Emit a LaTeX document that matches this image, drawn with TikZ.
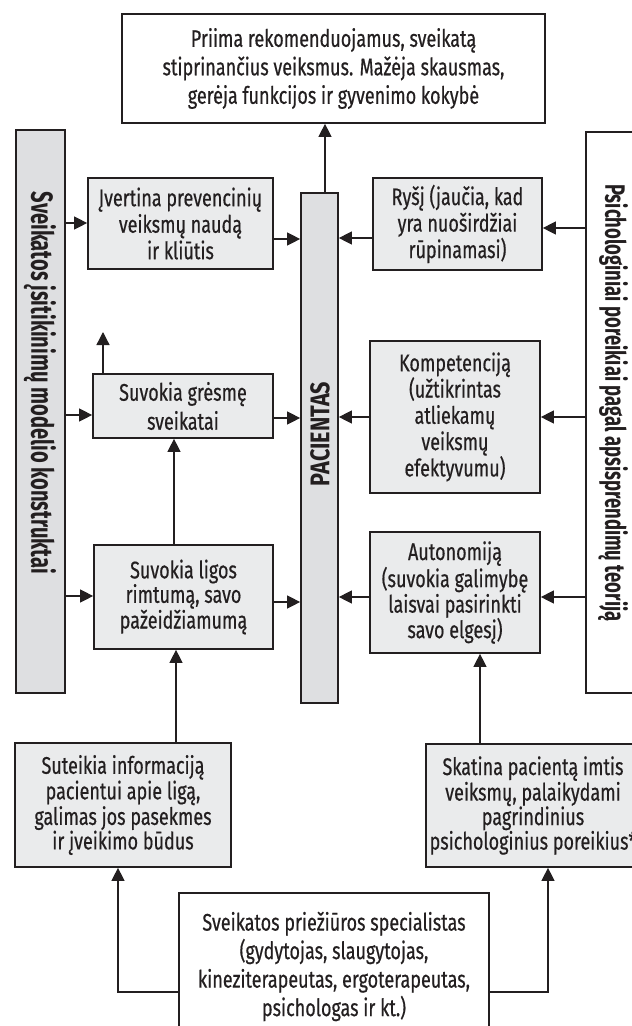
\documentclass[tikz,border=0pt]{standalone}
\usepackage{fontspec}
\setmainfont[FakeStretch=0.75,FakeBold=0.5]{Fira Sans}
\newfontfamily\condb[FakeStretch=0.66]{Fira Sans}
\newfontfamily\condp[FakeStretch=0.8]{Fira Sans}
\usetikzlibrary{arrows.meta}
\definecolor{ink}{RGB}{35,31,32}
\definecolor{lightfill}{RGB}{234,235,236}
\definecolor{tallfill}{RGB}{222,223,225}
\tikzset{
  bx/.style={draw=ink, line width=1.7pt, fill=lightfill, align=center, inner sep=0pt, text=ink,
    font=\fontsize{24}{25.5}\selectfont},
  wbx/.style={bx, fill=white, font=\fontsize{24}{28.5}\selectfont},
  tallbx/.style={draw=ink, line width=1.7pt, fill=tallfill, inner sep=0pt},
  rottxt/.style={text=ink, inner sep=0pt, font=\condb\bfseries\fontsize{28}{30}\selectfont},
  conn/.style={draw=ink, line width=1.3pt, -{Triangle[length=13pt,width=13pt]}},
}
\begin{document}
\begin{tikzpicture}[x=1pt,y=-1pt]
\useasboundingbox (0,0) rectangle (632,1026);
\clip (0,0) rectangle (632,1026);
% boxes
\node[wbx, minimum width=423pt, minimum height=109pt] (top) at (333.5,68.5)
  {Priima rekomenduojamus, sveikatą\\stiprinančius veiksmus. Mažėja skausmas,\\gerėja funkcijos ir gyvenimo kokybė};
\node[tallbx, minimum width=49pt, minimum height=563pt] (lt) at (40.5,411.5) {};
\node[tallbx, fill=white, minimum width=59pt, minimum height=561pt] (rt) at (615.5,412.5) {};
\node[tallbx, minimum width=37pt, minimum height=510pt] (pac) at (319.5,448) {};
\node[rottxt, rotate=-90, font=\condb\bfseries\fontsize{30.5}{30}\selectfont] (lttxt) at (40,383) {Sveikatos įsitikinimų modelio konstruktai};
\node[rottxt, rotate=-90] (rttxt) at (613,403) {Psichologiniai poreikiai pagal apsisprendimų teoriją};
\node[rottxt, rotate=90, font=\condp\bfseries\fontsize{27}{25}\selectfont] (pactxt) at (320,434) {PACIENTAS};
\node[bx, minimum width=185pt, minimum height=91pt, font=\fontsize{24}{26.5}\selectfont] (iv) at (180.5,223.5)
  {Įvertina prevencinių\\veiksmų naudą\\ir kliūtis};
\node[bx, minimum width=180pt, minimum height=64pt, font=\fontsize{24}{29}\selectfont] (sg) at (183,406)
  {Suvokia grėsmę\\sveikatai};
\node[bx, minimum width=179pt, minimum height=104pt, font=\fontsize{24}{24.5}\selectfont] (sl) at (183.5,597)
  {Suvokia ligos\\rimtumą, savo\\pažeidžiamumą};
\node[bx, minimum width=169pt, minimum height=92pt, font=\fontsize{24}{26.5}\selectfont] (ry) at (457.5,224)
  {Ryšį (jaučia, kad\\yra nuoširdžiai\\rūpinamasi)};
\node[bx, minimum width=170pt, minimum height=152pt, font=\fontsize{24}{26.3}\selectfont] (ko) at (455,417)
  {Kompetenciją\\(užtikrintas\\atliekamų\\veiksmų\\efektyvumu)};
\node[bx, minimum width=170pt, minimum height=121pt] (au) at (455,592.5)
  {Autonomiją\\(suvokia galimybę\\laisvai pasirinkti\\savo elgesį)};
\node[bx, minimum width=216pt, minimum height=124pt, font=\fontsize{24}{24.5}\selectfont] (sut) at (123,805)
  {Suteikia informaciją\\pacientui apie ligą,\\galimas jos pasekmes\\ir įveikimo būdus};
\node[bx, minimum width=214pt, minimum height=123pt, font=\fontsize{24}{24.5}\selectfont] (skt) at (533,805.5)
  {Skatina pacientą imtis\\veiksmų, palaikydami\\pagrindinius\\psichologinius poreikius*};
\node[wbx, minimum width=310pt, minimum height=147pt] (bot) at (334,966.5)
  {Sveikatos priežiūros specialistas\\(gydytojas, slaugytojas,\\kineziterapeutas, ergoterapeutas,\\psichologas ir kt.)};
\coordinate (stub) at (103,332);
% connectors left
\draw[conn] (lt.east |- {(0,223)}) -- (iv.west |- {(0,223)});
\draw[conn] (lt.east |- {(0,415)}) -- (sg.west |- {(0,415)});
\draw[conn] (lt.east |- {(0,596)}) -- (sl.west |- {(0,596)});
\draw[conn] (iv.east |- {(0,239)}) -- (pac.west |- {(0,239)});
\draw[conn] (sg.east |- {(0,418)}) -- (pac.west |- {(0,418)});
\draw[conn] (sl.east |- {(0,602)}) -- (pac.west |- {(0,602)});
% connectors right
\draw[conn] (rt.west |- {(0,228)}) -- (ry.east |- {(0,228)});
\draw[conn] (rt.west |- {(0,417)}) -- (ko.east |- {(0,417)});
\draw[conn] (rt.west |- {(0,597)}) -- (au.east |- {(0,597)});
\draw[conn] (ry.west |- {(0,238)}) -- (pac.east |- {(0,238)});
\draw[conn] (ko.west |- {(0,417)}) -- (pac.east |- {(0,417)});
\draw[conn] (au.west |- {(0,597)}) -- (pac.east |- {(0,597)});
% verticals
\draw[conn] (pac.north -| {(325,0)}) -- (top.south -| {(325,0)});
\draw[conn] (sg.north -| stub) -- (stub);
\draw[conn] (sl.north -| {(174,0)}) -- (sg.south -| {(174,0)});
\draw[conn] (sut.north -| {(176,0)}) -- (sl.south -| {(176,0)});
\draw[conn] (skt.north -| {(480,0)}) -- (au.south -| {(480,0)});
\draw[conn] (bot.west |- {(0,992)}) -| (sut.south -| {(118,0)});
\draw[conn] (bot.east |- {(0,992)}) -| (skt.south -| {(548,0)});
\end{tikzpicture}
\end{document}
